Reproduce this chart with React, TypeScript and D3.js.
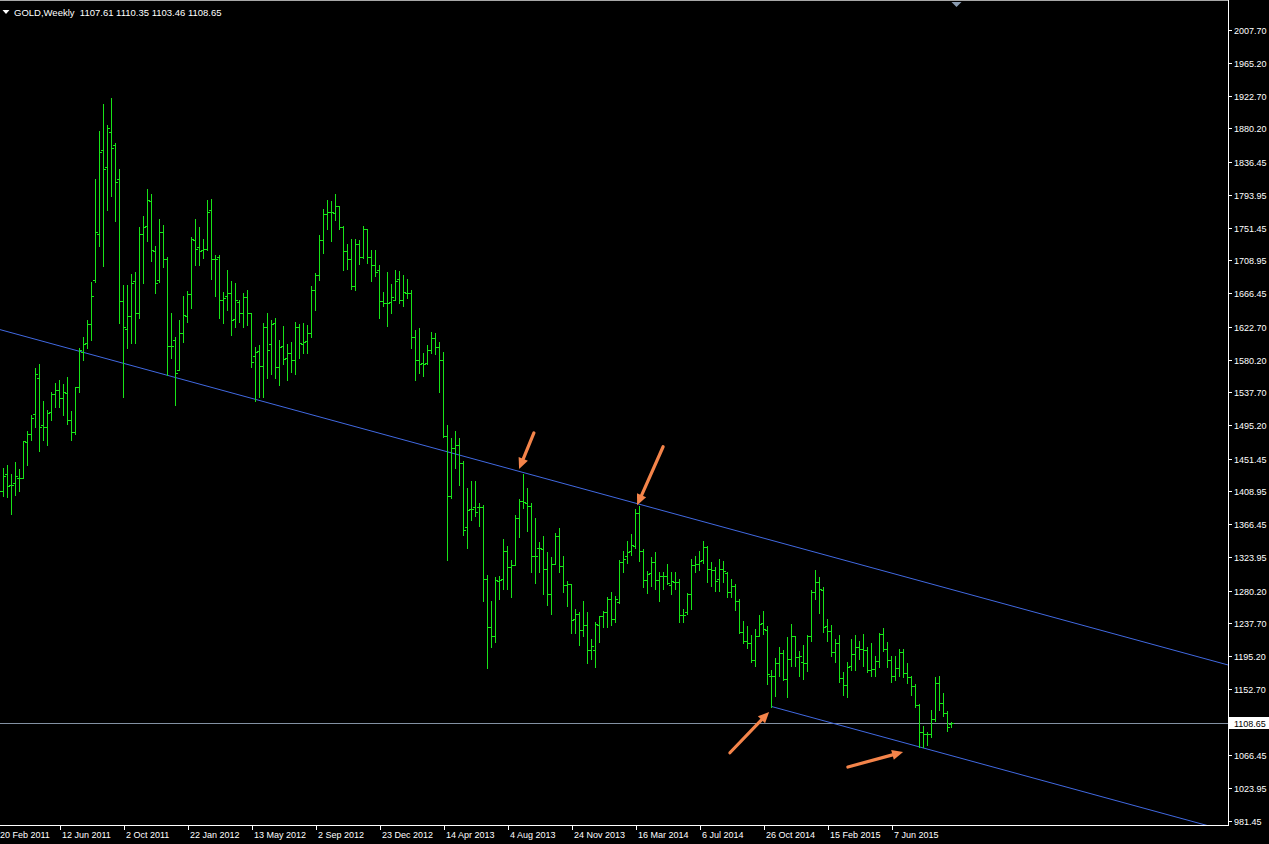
import React from 'react';
import * as d3 from 'd3';

// ---------- data (weekly GOLD, first bar = week of 20 Feb 2011) ----------
const symbolTitle = 'GOLD,Weekly';
const headerValues = ['1107.61', '1110.35', '1103.46', '1108.65'];

const FIRST_BAR = -1; // bar index of first week; index 0 = week of 27 Feb 2011
const LABEL_EVERY = 16;
const dateLabels = ['20 Feb 2011', '12 Jun 2011', '2 Oct 2011', '22 Jan 2012', '13 May 2012', '2 Sep 2012', '23 Dec 2012', '14 Apr 2013', '4 Aug 2013', '24 Nov 2013', '16 Mar 2014', '6 Jul 2014', '26 Oct 2014', '15 Feb 2015', '7 Jun 2015'];

const priceLabels = [2007.70, 1965.20, 1922.70, 1880.20, 1836.45, 1793.95, 1751.45, 1708.95, 1666.45, 1622.70, 1580.20, 1537.70, 1495.20, 1451.45, 1408.95, 1366.45, 1323.95, 1280.20, 1237.70, 1195.20, 1152.70, 1066.45, 1023.95, 981.45];
const lastPrice = 1108.65;

const openP = [1388,1410,1432,1417,1420,1427,1427,1473,1484,1510,1556,1495,1493,1512,1535,1541,1530,1537,1502,1486,1544,1590,1602,1626,1683,1743,1852,1830,1876,1858,1814,1656,1620,1637,1682,1640,1743,1753,1786,1721,1683,1745,1710,1598,1606,1567,1615,1636,1665,1735,1726,1722,1724,1774,1711,1713,1658,1662,1667,1633,1655,1641,1661,1641,1585,1591,1572,1623,1600,1627,1571,1598,1582,1589,1580,1623,1600,1604,1615,1670,1690,1735,1769,1771,1770,1779,1752,1721,1710,1676,1730,1713,1750,1713,1703,1696,1656,1654,1655,1658,1684,1657,1667,1666,1609,1580,1576,1576,1592,1608,1596,1580,1481,1403,1465,1469,1446,1363,1386,1389,1389,1389,1296,1233,1222,1293,1295,1332,1311,1314,1375,1396,1394,1390,1325,1335,1334,1309,1276,1315,1351,1312,1288,1289,1243,1250,1229,1236,1203,1203,1236,1247,1252,1269,1243,1265,1318,1325,1332,1338,1381,1332,1294,1303,1318,1294,1299,1299,1288,1292,1292,1249,1252,1276,1314,1315,1320,1337,1309,1307,1295,1308,1303,1279,1286,1267,1227,1215,1212,1190,1222,1238,1229,1170,1169,1186,1199,1166,1192,1222,1194,1188,1187,1222,1279,1292,1281,1234,1228,1201,1212,1167,1158,1182,1198,1207,1204,1203,1178,1179,1189,1224,1205,1190,1169,1180,1201,1173,1168,1157,1132,1097,1094,1094,1114,1160,1134,1121,1107.61];
const highP = [1416,1439,1443,1432,1447,1438,1475,1487,1508,1569,1575,1526,1515,1538,1550,1553,1549,1558,1513,1545,1595,1610,1631,1681,1814,1877,1912,1884,1920,1861,1827,1677,1677,1691,1694,1752,1766,1801,1795,1727,1762,1755,1713,1640,1609,1631,1662,1669,1739,1762,1752,1736,1787,1789,1716,1716,1668,1696,1682,1680,1657,1666,1670,1641,1596,1599,1628,1640,1632,1634,1606,1624,1600,1603,1629,1626,1627,1625,1675,1693,1742,1776,1787,1786,1795,1779,1753,1730,1737,1737,1735,1753,1750,1722,1722,1703,1668,1694,1678,1696,1695,1690,1684,1670,1619,1621,1589,1599,1616,1614,1603,1590,1495,1478,1488,1478,1449,1413,1422,1423,1394,1391,1301,1267,1298,1299,1347,1338,1320,1378,1399,1432,1414,1394,1374,1344,1351,1330,1324,1355,1361,1325,1293,1289,1257,1252,1267,1252,1218,1239,1247,1254,1272,1279,1273,1320,1332,1345,1354,1386,1390,1334,1306,1324,1331,1305,1304,1315,1305,1305,1295,1257,1277,1321,1325,1332,1345,1338,1317,1311,1321,1319,1304,1295,1289,1270,1241,1234,1223,1231,1249,1254,1234,1177,1193,1207,1203,1220,1237,1222,1202,1210,1223,1281,1307,1298,1285,1244,1236,1218,1223,1175,1188,1218,1223,1215,1224,1207,1213,1196,1226,1232,1214,1196,1195,1205,1205,1187,1170,1159,1133,1105,1097,1126,1168,1170,1147,1124,1110.35];
const lowP = [1384,1403,1402,1380,1405,1409,1426,1443,1476,1492,1461,1476,1469,1502,1518,1519,1508,1497,1476,1484,1538,1580,1595,1605,1681,1727,1701,1774,1792,1760,1627,1531,1595,1602,1602,1634,1680,1734,1708,1666,1681,1700,1560,1582,1521,1567,1603,1629,1647,1703,1703,1712,1722,1685,1662,1634,1627,1644,1612,1623,1629,1622,1625,1571,1527,1532,1531,1556,1562,1556,1547,1574,1553,1564,1561,1582,1588,1588,1609,1644,1683,1719,1749,1734,1761,1750,1696,1697,1672,1671,1704,1712,1705,1682,1688,1634,1650,1624,1641,1657,1654,1650,1660,1595,1553,1563,1559,1575,1588,1587,1538,1480,1320,1400,1439,1417,1352,1336,1372,1377,1364,1267,1180,1207,1214,1269,1282,1282,1272,1314,1350,1388,1358,1304,1290,1305,1276,1262,1250,1315,1304,1279,1260,1226,1226,1210,1222,1186,1191,1181,1214,1233,1233,1236,1239,1264,1305,1316,1327,1336,1319,1285,1277,1286,1283,1267,1283,1289,1276,1283,1240,1239,1250,1257,1305,1307,1316,1291,1286,1280,1280,1291,1272,1272,1255,1226,1212,1206,1188,1182,1221,1224,1159,1130,1144,1170,1164,1142,1182,1182,1169,1166,1176,1215,1270,1251,1227,1215,1196,1188,1162,1145,1142,1177,1177,1191,1182,1175,1170,1170,1181,1202,1181,1162,1165,1170,1168,1161,1145,1130,1077,1077,1080,1090,1111,1125,1118,1098,1103.46];
const closeP = [1409,1429,1416,1418,1429,1427,1474,1484,1504,1562,1493,1493,1511,1535,1541,1530,1538,1502,1486,1544,1592,1600,1626,1663,1745,1850,1828,1881,1855,1810,1656,1622,1637,1679,1640,1743,1752,1787,1722,1679,1745,1710,1598,1598,1563,1615,1638,1665,1737,1724,1721,1723,1771,1711,1710,1658,1660,1667,1631,1658,1641,1661,1640,1577,1590,1572,1623,1593,1626,1571,1597,1581,1588,1580,1622,1602,1603,1614,1670,1690,1735,1769,1771,1772,1779,1752,1721,1710,1676,1730,1713,1750,1713,1703,1694,1656,1654,1654,1661,1682,1657,1668,1666,1609,1580,1574,1574,1592,1608,1596,1580,1481,1403,1465,1469,1446,1359,1385,1386,1382,1389,1296,1233,1222,1294,1294,1332,1311,1314,1375,1396,1395,1390,1325,1325,1335,1309,1276,1315,1351,1312,1288,1289,1242,1250,1229,1236,1203,1209,1237,1247,1252,1269,1243,1270,1318,1322,1331,1340,1381,1332,1294,1302,1318,1294,1299,1299,1290,1293,1292,1249,1249,1276,1314,1315,1319,1337,1309,1307,1293,1308,1306,1279,1286,1267,1227,1215,1213,1190,1222,1237,1230,1172,1169,1186,1199,1166,1191,1222,1194,1195,1187,1222,1279,1292,1282,1233,1228,1201,1212,1167,1158,1181,1198,1207,1204,1203,1178,1179,1189,1224,1205,1190,1169,1180,1201,1173,1168,1157,1132,1097,1094,1094,1114,1160,1134,1121,1104,1108.65];

// channel anchors (bar index, price)
const upperAnchors = [{ bar: 130, price: 1433.5 }, { bar: 159, price: 1392.4 }];
const lowerAnchor = { bar: 192, price: 1130 };

// annotation arrows (bar index / price space)
const arrows = [
  { fromBar: 132.6, fromPrice: 1485, toBar: 128.9, toPrice: 1438 },
  { fromBar: 164.9, fromPrice: 1467, toBar: 158.4, toPrice: 1391 },
  { fromBar: 181.6, fromPrice: 1070, toBar: 191.4, toPrice: 1123 },
  { fromBar: 211.1, fromPrice: 1051.5, toBar: 224.9, toPrice: 1071 },
];

// ---------- layout ----------
const W = 1269;
const H = 844;
const PLOT_R = 1228;
const PLOT_B = 825;
const FONT = "'Liberation Sans', Arial, sans-serif";
const BAR_COLOR = '#18e418';
const LINE_BLUE = '#4169e1';
const ARROW = '#f4844a';

export default function App() {
  const x = d3.scaleLinear().domain([0, 1]).range([3.5, 7.5]);
  const y = d3.scaleLinear().domain([981.45, 2007.7]).range([821, 30]);
  const py = (p: number) => Math.round(y(p));

  const n = openP.length;
  const bars = d3.range(n).map((i) => {
    const k = i + FIRST_BAR;
    const col = Math.floor(x(k));
    const yo = py(openP[i]);
    const yc = py(closeP[i]);
    const yh = Math.min(py(highP[i]), yo, yc);
    const yl = Math.max(py(lowP[i]), yo, yc);
    return { i, col, yo, yc, yh, yl };
  });

  const slope = (upperAnchors[1].price - upperAnchors[0].price) / (upperAnchors[1].bar - upperAnchors[0].bar);
  const upperAt = (k: number) => upperAnchors[0].price + (k - upperAnchors[0].bar) * slope;
  const lowerAt = (k: number) => lowerAnchor.price + (k - lowerAnchor.bar) * slope;
  const kLeft = -3;
  const kRight = 320;

  const lastBarK = FIRST_BAR + n - 1;
  const shiftX = x(lastBarK) + 5;

  const arrowShapes = arrows.map((a, j) => {
    const x1 = x(a.fromBar), y1 = y(a.fromPrice);
    const x2 = x(a.toBar), y2 = y(a.toPrice);
    const dx = x2 - x1, dy = y2 - y1;
    const len = Math.hypot(dx, dy);
    const ux = dx / len, uy = dy / len;
    const headLen = 11, headHalf = 5;
    const bx = x2 - ux * headLen, by = y2 - uy * headLen;
    const px = -uy, pyy = ux;
    const head = `M${x2},${y2}L${bx + px * headHalf},${by + pyy * headHalf}L${bx - px * headHalf},${by - pyy * headHalf}Z`;
    return { j, x1, y1, bx, by, head };
  });

  const lastY = py(lastPrice) + 0.5;

  return (
    <svg
      width={W}
      height={H}
      style={{ position: 'absolute', left: 0, top: 0, display: 'block', background: '#000' }}
    >
      <defs>
        <clipPath id="plot">
          <rect x={0} y={0} width={PLOT_R} height={PLOT_B} />
        </clipPath>
      </defs>
      <rect x={0} y={0} width={W} height={H} fill="#000" />

      <g clipPath="url(#plot)">
        {/* bid line */}
        <line x1={0} x2={PLOT_R} y1={lastY} y2={lastY} stroke="#8391a3" strokeWidth={1} shapeRendering="crispEdges" />
        {/* channel */}
        <line x1={x(kLeft)} y1={y(upperAt(kLeft))} x2={x(kRight)} y2={y(upperAt(kRight))} stroke={LINE_BLUE} strokeWidth={1} />
        <line x1={x(lowerAnchor.bar)} y1={y(lowerAt(lowerAnchor.bar))} x2={x(kRight)} y2={y(lowerAt(kRight))} stroke={LINE_BLUE} strokeWidth={1} />

        {/* OHLC bars */}
        <g fill={BAR_COLOR} shapeRendering="crispEdges">
          {bars.map((b) => (
            <g key={b.i}>
              <rect x={b.col} y={b.yh} width={1} height={b.yl - b.yh + 1} />
              <rect x={b.col - 2} y={b.yo} width={2} height={1} />
              <rect x={b.col + 1} y={b.yc} width={2} height={1} />
            </g>
          ))}
        </g>

        {/* arrows */}
        {arrowShapes.map((a) => (
          <g key={a.j}>
            <line x1={a.x1} y1={a.y1} x2={a.bx} y2={a.by} stroke={ARROW} strokeWidth={3.2} strokeLinecap="round" />
            <path d={a.head} fill={ARROW} />
          </g>
        ))}
      </g>

      {/* frame */}
      <line x1={0} x2={PLOT_R} y1={0.5} y2={0.5} stroke="#a8a8a8" strokeWidth={1} shapeRendering="crispEdges" />
      <line x1={PLOT_R + 0.5} x2={PLOT_R + 0.5} y1={0} y2={PLOT_B + 1} stroke="#ffffff" strokeWidth={1} shapeRendering="crispEdges" />
      <line x1={0} x2={PLOT_R + 1} y1={PLOT_B + 0.5} y2={PLOT_B + 0.5} stroke="#ffffff" strokeWidth={1} shapeRendering="crispEdges" />

      {/* chart shift marker */}
      <path d={`M${shiftX - 5},2L${shiftX + 5},2L${shiftX},7Z`} fill="#8a9bb0" />

      {/* price axis */}
      <g fontFamily={FONT} fontSize={9} fill="#ffffff">
        {priceLabels.map((v) => {
          const yy = py(v) + 0.5;
          return (
            <g key={v}>
              <line x1={PLOT_R + 1} x2={PLOT_R + 4} y1={yy} y2={yy} stroke="#ffffff" shapeRendering="crispEdges" />
              <text x={PLOT_R + 6} y={yy + 3.5}>{v.toFixed(2)}</text>
            </g>
          );
        })}
        <rect x={PLOT_R + 1} y={lastY - 6.5} width={W - PLOT_R - 1} height={12} fill="#ffffff" />
        <text x={PLOT_R + 6} y={lastY + 3.5} fill="#000000">{lastPrice.toFixed(2)}</text>
      </g>

      {/* time axis */}
      <g fontFamily={FONT} fontSize={9} fill="#ffffff">
        {dateLabels.map((lab, j) => {
          const k = FIRST_BAR + j * LABEL_EVERY;
          const col = Math.floor(x(k));
          return (
            <g key={lab}>
              {col - 2.5 > 0 && (
                <line x1={col - 2.5} x2={col - 2.5} y1={PLOT_B + 1} y2={PLOT_B + 5} stroke="#ffffff" shapeRendering="crispEdges" />
              )}
              <text x={Math.max(0, col - 1)} y={838}>{lab}</text>
            </g>
          );
        })}
      </g>

      {/* title */}
      <path d="M2.5,10L9.5,10L6,14Z" fill="#ffffff" />
      <text x={14} y={16} fontFamily={FONT} fontSize={9.5} fill="#ffffff" style={{ whiteSpace: 'pre' }}>
        {`${symbolTitle}  ${headerValues.join(' ')}`}
      </text>
    </svg>
  );
}
